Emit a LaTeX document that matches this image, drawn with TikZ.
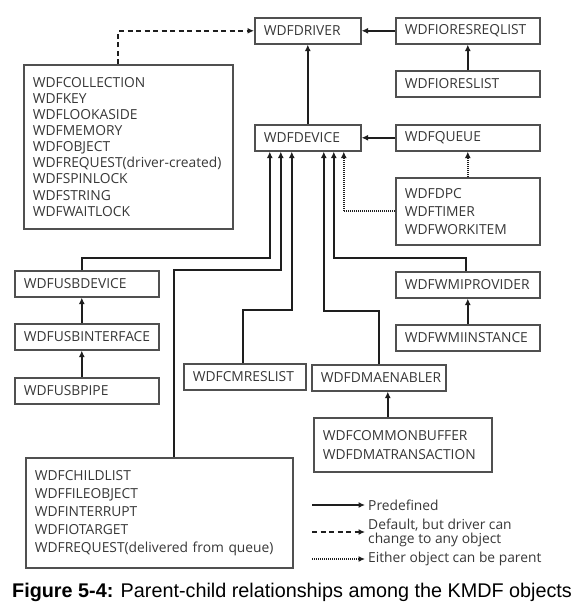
\documentclass[tikz,border=0pt]{standalone}
\usepackage{fontspec}
\setmainfont{Liberation Sans}
\newfontfamily\objfont{Open Sans}
\usetikzlibrary{arrows.meta}

\definecolor{boxline}{RGB}{80,80,80}
\definecolor{objtext}{RGB}{55,55,55}
\definecolor{wire}{RGB}{30,30,30}

\tikzset{
  obj/.style={draw=boxline, line width=1.6pt, text=objtext, anchor=north west,
    align=left, inner xsep=9pt, inner ysep=0pt, minimum height=26pt,
    text width=#1, font=\objfont\fontsize{13.8}{18}\selectfont},
  pre/.style={draw=wire, line width=1.7pt, -{Latex[length=6.5pt,width=6pt]}},
  dflt/.style={pre, dash pattern=on 5pt off 3.5pt},
  either/.style={pre, dash pattern=on 1pt off 1pt},
  legend/.style={text=objtext, anchor=west, inner sep=0pt, align=left,
    font=\objfont\fontsize{13.8}{13.5}\selectfont},
}

\begin{document}
\begin{tikzpicture}[x=1pt, y=-1pt]

\useasboundingbox (0,0) rectangle (584,605);

%% objects
\node[obj=88pt] (drv) at (254,17) {WDFDRIVER};
\node[obj=126pt] (ioreq) at (395,17) {WDFIORESREQLIST};
\node[obj=126pt] (iores) at (395,70) {WDFIORESLIST};
\node[obj=88pt] (dev) at (254,124) {WDFDEVICE};
\node[obj=126pt] (queue) at (395,124) {WDFQUEUE};
\node[obj=126pt, minimum height=67pt] (dpc) at (395,177)
  {WDFDPC\\WDFTIMER\\WDFWORKITEM};
\node[obj=191pt, minimum height=164pt, font=\objfont\fontsize{13.8}{16.1}\selectfont] (coll) at (23,64)
  {WDFCOLLECTION\\WDFKEY\\WDFLOOKASIDE\\WDFMEMORY\\WDFOBJECT\\
   WDFREQUEST(driver-created)\\WDFSPINLOCK\\WDFSTRING\\WDFWAITLOCK};

%% usb
\node[obj=126pt] (usbdev) at (14,270) {WDFUSBDEVICE};
\node[obj=126pt] (usbif) at (14,323) {WDFUSBINTERFACE};
\node[obj=126pt] (usbpipe) at (14,377) {WDFUSBPIPE};

%% wmi
\node[obj=126pt] (wmiprov) at (395,271) {WDFWMIPROVIDER};
\node[obj=126pt] (wmiinst) at (395,324) {WDFWMIINSTANCE};

%% resources and dma
\node[obj=104pt] (cmres) at (183,363) {WDFCMRESLIST};
\node[obj=116pt] (dma) at (311,364) {WDFDMAENABLER};
\node[obj=160pt, minimum height=54pt, font=\objfont\fontsize{13.8}{19}\selectfont] (cbuf) at (313,417)
  {WDFCOMMONBUFFER\\WDFDMATRANSACTION};
\node[obj=249pt, minimum height=110pt] (child) at (25,457)
  {WDFCHILDLIST\\WDFFILEOBJECT\\WDFINTERRUPT\\WDFIOTARGET\\
   WDFREQUEST(delivered from queue)};

%% connectors
\draw[pre] (ioreq) -- (drv);
\draw[pre] (iores) -- (ioreq);
\draw[pre] (dev) -- (drv);
\draw[pre] (queue) -- (dev);
\draw[either] (dpc) -- (queue);
\draw[either] (dpc.west) -| ([xshift=36pt]dev.south);
\draw[dflt] ([xshift=-10pt]coll.north) |- (drv.west);

\draw[pre] ([xshift=-5pt]usbdev.north) -- ++(0,-12) -| ([xshift=-38pt]dev.south);
\draw[pre] ([xshift=15pt]child.north) -- ++(0,-187) -| ([xshift=-27pt]dev.south);
\draw[pre] ([xshift=-2pt]cmres.north) -- ++(0,-53) -| ([xshift=-16pt]dev.south);
\draw[pre] (dma.north) -- ++(0,-53) -| ([xshift=16pt]dev.south);
\draw[pre] ([xshift=-2pt]wmiprov.north) -- ++(0,-13) -| ([xshift=26pt]dev.south);

\draw[pre] ([xshift=-5pt]usbif.north) -- ([xshift=-5pt]usbdev.south);
\draw[pre] ([xshift=-5pt]usbpipe.north) -- ([xshift=-5pt]usbif.south);
\draw[pre] (wmiinst) -- (wmiprov);
\draw[pre] ([xshift=-15pt]cbuf.north) -- ([xshift=9pt]dma.south);

%% legend
\coordinate (lgpa) at (312,505);
\coordinate (lgpb) at (365,505);
\coordinate (lgda) at (312,532);
\coordinate (lgdb) at (365,532);
\coordinate (lgea) at (312,559);
\coordinate (lgeb) at (365,559);
\draw[pre] (lgpa) -- (lgpb);
\draw[dflt] (lgda) -- (lgdb);
\draw[either] (lgea) -- (lgeb);
\node[legend] (lgpre) at (368,505) {Predefined};
\node[legend] (lgdef) at (368,533) {Default, but driver can\\change to any object};
\node[legend] (lgeit) at (368,559) {Either object can be parent};

%% caption
\node[anchor=base west, inner sep=0pt, font=\fontsize{19.8}{24}\selectfont] (caption) at (12,597)
  {\textbf{Figure 5-4:} Parent-child relationships among the KMDF objects};

\end{tikzpicture}
\end{document}
